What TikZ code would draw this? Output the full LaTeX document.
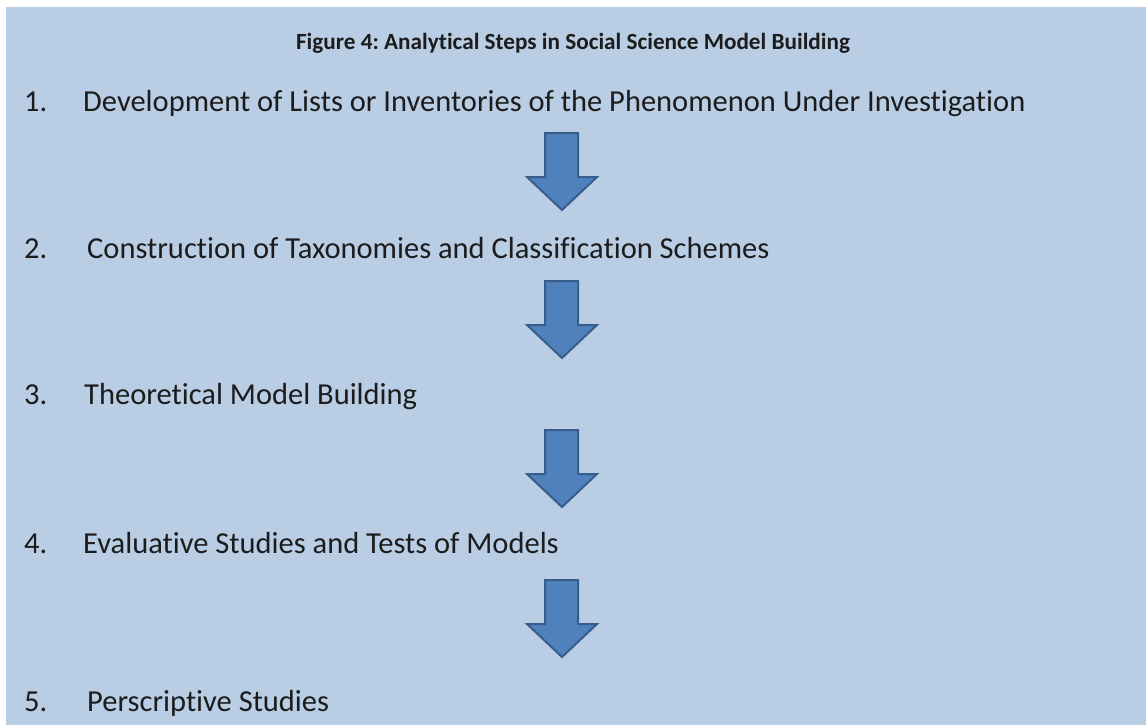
\documentclass[tikz,border=0pt]{standalone}
\usepackage{fontspec}
\setmainfont{Carlito}[Ligatures={NoCommon}]
\frenchspacing
\usetikzlibrary{positioning}
\definecolor{panelblue}{HTML}{B9CDE5}
\definecolor{arrowblue}{HTML}{4F81BD}
\definecolor{arrowedge}{HTML}{385D8A}
\definecolor{inktext}{HTML}{1C1C1C}
\tikzset{
	steptext/.style={anchor=base west, inner sep=0pt, font=\fontsize{30.5}{36}\selectfont\color{inktext}}
}
\tikzset{
	titletext/.style={anchor=base, inner sep=0pt, font=\fontsize{23.2}{28}\selectfont\bfseries\color{inktext}}
}
\tikzset{
	downarrow/.style={fill=arrowblue, draw=arrowedge, line width=2pt, line join=miter}
}

\begin{document}
\begin{tikzpicture}[x=1pt, y=-1pt]
      \useasboundingbox (0,0) rectangle (1146,725);
      \fill[white] (0,0) rectangle (1146,725);
      \fill[panelblue] (6,7) rectangle (1146,725);

      \node[titletext] (title) at (573,50) {Figure 4: Analytical Steps in Social Science Model Building};

      % numbers in one column, step texts a little to the right
      \node[steptext] (num1) at (24,111) {1.};
      \node[steptext] (step1) at (83,111) {Development of Lists or Inventories of the Phenomenon Under Investigation};
      \node[steptext] (num2) at (24,258) {2.};
      \node[steptext] (step2) at (87,258) {Construction of Taxonomies and Classification Schemes};
      \node[steptext] (num3) at (24,404) {3.};
      \node[steptext] (step3) at (84,404) {Theoretical Model Building};
      \node[steptext] (num4) at (24,553) {4.};
      \node[steptext] (step4) at (83,553) {Evaluative Studies and Tests of Models};
      \node[steptext] (num5) at (24,711) {5.};
      \node[steptext] (step5) at (87,711) {Perscriptive Studies};

      % block arrows between the steps
      \foreach \t in {133,281,430,580} {
        \draw[downarrow] (545,\t) -- (578,\t) -- (578,\t+44) -- (597,\t+44)
          -- (562,\t+77) -- (527,\t+44) -- (545,\t+44) -- cycle;
      }
    \end{tikzpicture}
\end{document}
